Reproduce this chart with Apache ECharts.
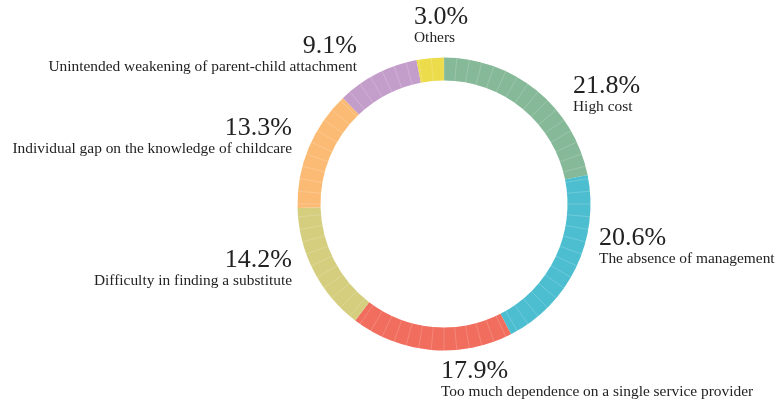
<!DOCTYPE html>
<html>
<head>
<meta charset="utf-8">
<script src="https://cdn.jsdelivr.net/npm/echarts@6/dist/echarts.min.js"></script>
<style>
html,body{margin:0;padding:0;background:#fff;}
#c{width:778px;height:405px;}
</style>
</head>
<body>
<div id="c"></div>
<script>
// ---- data ----
const categories = [
  'High cost',
  'The absence of management',
  'Too much dependence on a single service provider',
  'Difficulty in finding a substitute',
  'Individual gap on the knowledge of childcare',
  'Unintended weakening of parent-child attachment',
  'Others'
];
const percents = [21.8, 20.6, 17.9, 14.2, 13.3, 9.1, 3.0];

// ---- styles ----
const colors = ['#86b998', '#4dbed0', '#f16d5d', '#d4ce7e', '#fcbb74', '#c49eca', '#ecdb4b'];
// label placement: [align, x, vertical middle]
const labelPlacement = [
  ['left', 573, 94],
  ['left', 599, 246],
  ['left', 441, 379],
  ['right', 292, 268],
  ['right', 292, 136],
  ['right', 357, 54],
  ['left', 414, 25]
];
const FONT = "'Liberation Serif', 'Times New Roman', serif";
const CENTER = [444, 204];

const chart = echarts.init(document.getElementById('c'), null, {renderer: 'canvas'});
chart.setOption({
  backgroundColor: '#ffffff',
  animation: false,
  color: colors,
  polar: { center: CENTER, radius: [120, 151] },
  angleAxis: {
    type: 'value', min: 0, max: 360, interval: 5,
    startAngle: 90, clockwise: true, z: 10,
    axisLine: { show: false }, axisTick: { show: false }, axisLabel: { show: false },
    splitLine: { show: true, lineStyle: { color: 'rgba(255,255,255,0.3)', width: 0.6 } }
  },
  radiusAxis: { show: false, min: 0, max: 1 },
  series: [{
    type: 'pie',
    center: CENTER,
    radius: [123.5, 146.5],
    startAngle: 90,
    clockwise: true,
    avoidLabelOverlap: false,
    silent: true,
    data: categories.map((n, i) => ({ name: n, value: percents[i] })),
    label: {
      show: true,
      position: 'outside',
      formatter: p => '{p|' + p.value.toFixed(1) + '%}\n{n|' + p.name + '}',
      rich: {
        p: { fontSize: 26, lineHeight: 26, color: '#222', fontFamily: FONT },
        n: { fontSize: 15.4, lineHeight: 16, color: '#222', fontFamily: FONT }
      }
    },
    labelLine: { show: false },
    labelLayout: function (params) {
      const p = labelPlacement[params.dataIndex];
      return { x: p[1], y: p[2], align: p[0], verticalAlign: 'middle' };
    }
  }]
});
</script>
</body>
</html>
